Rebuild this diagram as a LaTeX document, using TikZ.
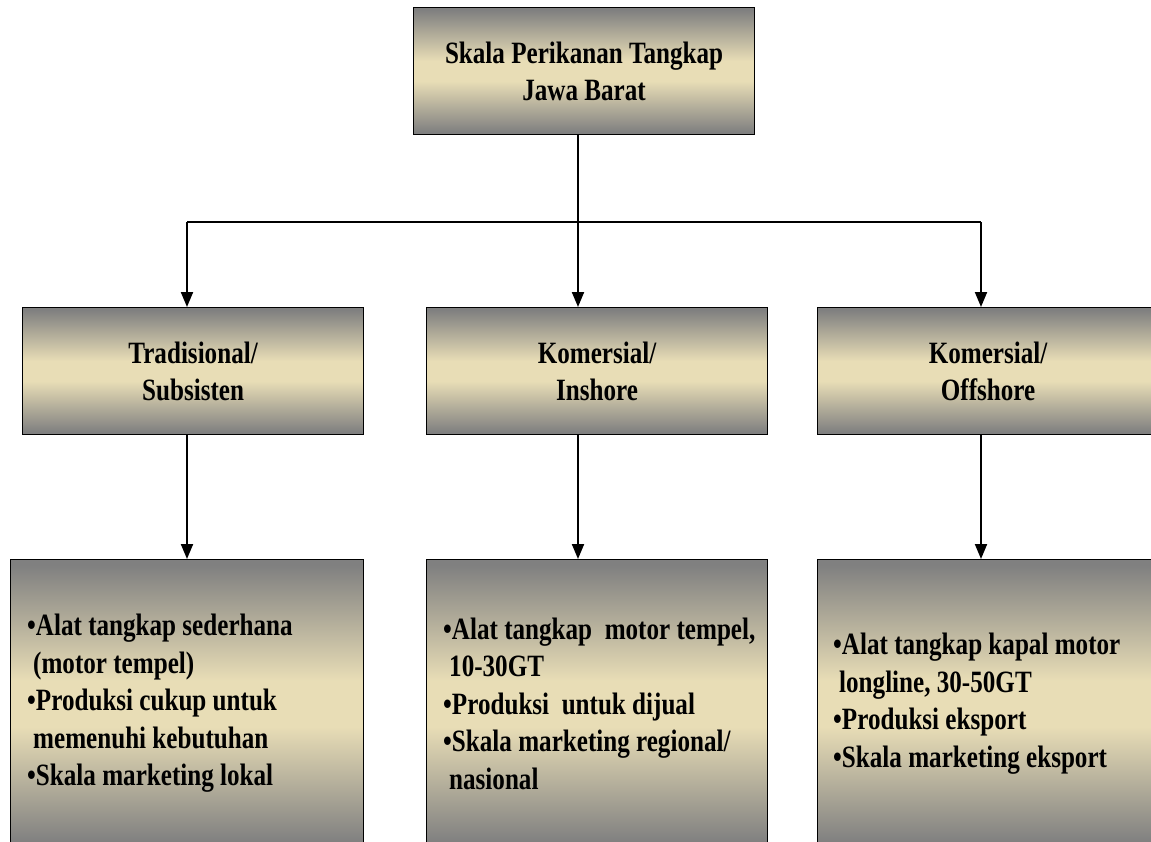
\documentclass[tikz,border=0pt]{standalone}
\usepackage{fontspec}
\setmainfont{Liberation Serif}[FakeStretch=0.81]
\usetikzlibrary{arrows.meta}

\definecolor{panelgray}{RGB}{128,128,128}
\definecolor{panelbeige}{RGB}{232,221,182}
% gray at top and bottom edges, beige band through the middle
\pgfdeclareverticalshading{panelshade}{100bp}{%
  color(0bp)=(panelgray); color(26bp)=(panelgray);
  color(46bp)=(panelbeige); color(54bp)=(panelbeige);
  color(74bp)=(panelgray); color(100bp)=(panelgray)}

\tikzset{
  panel/.style={draw=black, line width=1.2pt, shading=panelshade,
    rectangle, inner sep=0pt, anchor=north west,
    font=\fontsize{31}{37}\selectfont\bfseries, align=center},
  listtext/.style={inner sep=0pt, anchor=west, align=left,
    font=\fontsize{31}{37.5}\selectfont\bfseries},
  wire/.style={draw=black, line width=2pt},
  arrowwire/.style={wire, -{Triangle[length=15pt,width=12pt]}}
}
\newcommand{\cont}{\hspace*{6pt}}

\begin{document}
\begin{tikzpicture}[x=1pt,y=-1pt]
  \useasboundingbox (0,0) rectangle (1151,841);

  % title box
  \node[panel, minimum width=341pt, minimum height=127pt] (top) at (413,7)
    {Skala Perikanan Tangkap\\Jawa Barat};

  % second level
  \node[panel, minimum width=341pt, minimum height=127pt] (mid1) at (22,307)
    {Tradisional/\\Subsisten};
  \node[panel, minimum width=341pt, minimum height=127pt] (mid2) at (426,307)
    {Komersial/\\Inshore};
  \node[panel, minimum width=341pt, minimum height=127pt] (mid3) at (817,307)
    {Komersial/\\Offshore};

  % detail boxes
  \node[panel, minimum width=353pt, minimum height=288pt] (bot1) at (10,559) {};
  \node[panel, minimum width=341pt, minimum height=288pt] (bot2) at (426,559) {};
  \node[panel, minimum width=341pt, minimum height=288pt] (bot3) at (817,559) {};

  \node[listtext] (txt1) at ([xshift=17pt]bot1.west)
    {•Alat tangkap sederhana\\
     \cont(motor tempel)\\
     •Produksi cukup untuk\\
     \cont memenuhi kebutuhan\\
     •Skala marketing lokal};
  \node[listtext] (txt2) at ([xshift=17pt]bot2.west)
    {•Alat tangkap~ motor tempel,\\
     \cont 10-30GT\\
     •Produksi~ untuk dijual\\
     •Skala marketing regional/\\
     \cont nasional};
  \node[listtext] (txt3) at ([xshift=16pt]bot3.west)
    {•Alat tangkap kapal motor\\
     \cont longline, 30-50GT\\
     •Produksi eksport\\
     •Skala marketing eksport};

  % branch points
  \coordinate (busL) at (187,222);
  \coordinate (busM) at (578,222);
  \coordinate (busR) at (981,222);

  \draw[wire] (top.south -| busM) -- (busM);
  \draw[wire] (busL) -- (busR);
  \draw[arrowwire] (busL) -- (mid1.north -| busL);
  \draw[arrowwire] (busM) -- (mid2.north -| busM);
  \draw[arrowwire] (busR) -- (mid3.north -| busR);

  \draw[arrowwire] (mid1.south -| busL) -- (bot1.north -| busL);
  \draw[arrowwire] (mid2.south -| busM) -- (bot2.north -| busM);
  \draw[arrowwire] (mid3.south -| busR) -- (bot3.north -| busR);
\end{tikzpicture}
\end{document}
